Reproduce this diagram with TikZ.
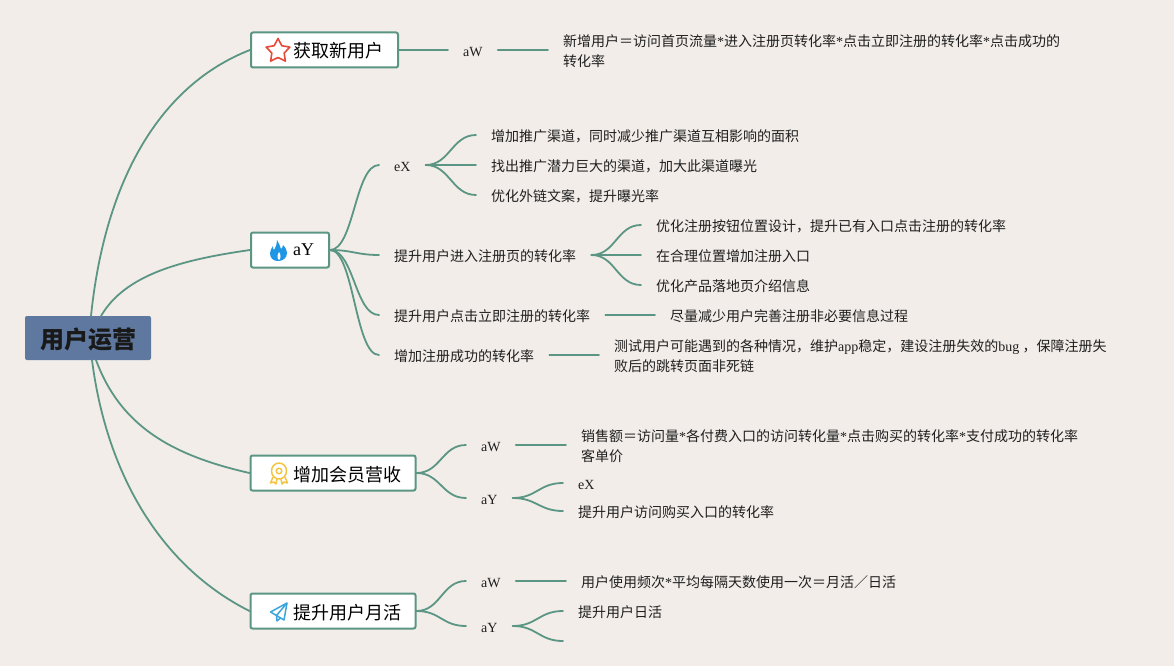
\documentclass[tikz,border=0pt]{standalone}
\usepackage{fontspec}
\setmainfont{Noto Sans CJK SC}
\newfontfamily\latf{Liberation Serif}
\newcommand{\lat}[1]{{\latf #1}}
\usetikzlibrary{calc}
\definecolor{bgc}{HTML}{F2EDE9}
\definecolor{linec}{HTML}{5B9584}
\definecolor{rootc}{HTML}{5F789F}
\definecolor{starc}{HTML}{E5493A}
\definecolor{flamec}{HTML}{1F96E4}
\definecolor{medalc}{HTML}{F4C543}
\definecolor{planec}{HTML}{3CA5DC}
\tikzset{
  lk/.style={draw=linec,line width=1.8pt,line cap=round},
  txtb/.style={anchor=west,inner xsep=15pt,inner ysep=0pt,font=\fontsize{14}{20}\selectfont,align=left,text=black!88},
  txt/.style={anchor=west,inner xsep=15pt,inner ysep=0pt,font=\fontsize{14}{20}\selectfont,text height=13pt,text depth=0.4pt,text=black!88},
  topic/.style={draw=linec,line width=2pt,fill=white,rounded corners=2pt,minimum height=35pt,inner sep=0pt,font=\fontsize{18}{22}\selectfont,text height=16.5pt,text depth=0.5pt,text=black},
  rootbox/.style={fill=rootc,rounded corners=2pt,minimum width=126pt,minimum height=44pt,inner sep=0pt,font=\fontsize{24}{28}\selectfont\bfseries,text height=20.5pt,text depth=0.5pt,text=black!90}
}
\newcommand{\fan}[3][24]{\draw[lk] (#2) .. controls +(#1,0) and +(-#1,0) .. (#3);}
\begin{document}
\begin{tikzpicture}[x=1pt,y=-1pt]
\useasboundingbox (0,0) rectangle (1174,666);
\fill[bgc] (0,0) rectangle (1174,666);
% topics
\node[rootbox] (root) at (88,338) {用户运营};
\node[topic,minimum width=147pt] (t1) at (324.5,50) {\hspace*{28pt}获取新用户};
\node[topic,minimum width=78pt,text height=10pt,text depth=0pt] (t2) at (290,250) {\hspace*{27pt}\lat{aY}};
\node[topic,minimum width=165pt] (t3) at (333,473) {\hspace*{29pt}增加会员营收};
\node[topic,minimum width=165pt] (t4) at (333,611) {\hspace*{28pt}提升用户月活};
% level 2
\node[txt] (a1) at (448,50) {\lat{aW}};
\node[txtb] (a1x) at (548,51) {新增用户＝访问首页流量\lat{*}进入注册页转化率\lat{*}点击立即注册的转化率\lat{*}点击成功的\\转化率};
\node[txt] (b1) at (379,165) {\lat{eX}};
\node[txt] (b11) at (476,135) {增加推广渠道，同时减少推广渠道互相影响的面积};
\node[txt] (b12) at (476,165) {找出推广潜力巨大的渠道，加大此渠道曝光};
\node[txt] (b13) at (476,195) {优化外链文案，提升曝光率};
\node[txt] (b2) at (379,255) {提升用户进入注册页的转化率};
\node[txt] (b21) at (641,225) {优化注册按钮位置设计，提升已有入口点击注册的转化率};
\node[txt] (b22) at (641,255) {在合理位置增加注册入口};
\node[txt] (b23) at (641,285) {优化产品落地页介绍信息};
\node[txt] (b3) at (379,315) {提升用户点击立即注册的转化率};
\node[txt] (b31) at (655,315) {尽量减少用户完善注册非必要信息过程};
\node[txt] (b4) at (379,355) {增加注册成功的转化率};
\node[txtb] (b41) at (599,356) {测试用户可能遇到的各种情况，维护\lat{app}稳定，建设注册失效的\lat{bug} ，保障注册失\\败后的跳转页面非死链};
\node[txt] (c1) at (466,445) {\lat{aW}};
\node[txtb] (c1x) at (566,446) {销售额＝访问量\lat{*}各付费入口的访问转化量\lat{*}点击购买的转化率\lat{*}支付成功的转化率\\客单价};
\node[txt] (c2) at (466,498) {\lat{aY}};
\node[txt] (c21) at (563,483) {\lat{eX}};
\node[txt] (c22) at (563,511) {提升用户访问购买入口的转化率};
\node[txt] (d1) at (466,581) {\lat{aW}};
\node[txt] (d1x) at (566,581) {用户使用频次\lat{*}平均每隔天数使用一次＝月活／日活};
\node[txt] (d2) at (466,626) {\lat{aY}};
\node[txt] (d21) at (563,611) {提升用户日活};
\coordinate (d22) at (563,641);
\coordinate (r1) at (91,316);
\coordinate (r2) at (101,316);
\coordinate (r3) at (96,360);
\coordinate (r4) at (92,360);
% root connectors
\draw[lk] (r1) .. controls (105,180) and (160,85) .. (t1.west);
\draw[lk] (r2) .. controls (125,275) and (180,260) .. (t2.west);
\draw[lk] (r3) .. controls (120,425) and (170,455) .. (t3.west);
\draw[lk] (r4) .. controls (106,470) and (158,565) .. (t4.west);
% straight connectors
\draw[lk] (t1.east) -- (a1.west);
\draw[lk] (a1.east) -- (a1.east -| a1x.west);
\draw[lk] (b3.east) -- (b31.west);
\draw[lk] (b4.east) -- (b4.east -| b41.west);
\draw[lk] (c1.east) -- (c1.east -| c1x.west);
\draw[lk] (d1.east) -- (d1x.west);
\draw[lk] (b1.east) -- (b12.west);
\draw[lk] (b2.east) -- (b22.west);
% fans
\fan{t2.east}{b1.west}
\fan[22]{t2.east}{b2.west}
\fan{t2.east}{b3.west}
\fan{t2.east}{b4.west}
\fan{b1.east}{b11.west}
\fan{b1.east}{b13.west}
\fan{b2.east}{b21.west}
\fan{b2.east}{b23.west}
\fan{t3.east}{c1.west}
\fan{t3.east}{c2.west}
\fan{c2.east}{c21.west}
\fan{c2.east}{c22.west}
\fan{t4.east}{d1.west}
\fan{t4.east}{d2.west}
\fan{d2.east}{d21.west}
\fan{d2.east}{d22}
% icons
\begin{scope}[shift={(278,51)}]
\draw[starc,line width=1.6pt,line join=round] (-90:12.5)--(-54:6.5)--(-18:12.5)--(18:6.5)--(54:12.5)--(90:6.5)--(126:12.5)--(162:6.5)--(198:12.5)--(234:6.5)--cycle;
\end{scope}
\fill[flamec] (277,240) .. controls (279,243) and (280,246) .. (281,249)
  .. controls (282,248) and (283,247) .. (283,245)
  .. controls (286,248) and (287,251) .. (287,253)
  .. controls (287,258) and (283,261) .. (278,261)
  .. controls (273,261) and (270,258) .. (270,253)
  .. controls (270,250) and (272,248) .. (273,246)
  .. controls (273,248) and (273,249) .. (274,250)
  .. controls (276,247) and (277,243) .. (277,240) -- cycle;
\fill[white] (279,252) .. controls (281,254) and (281,259) .. (279,260) .. controls (277,259) and (277,255) .. (279,252) -- cycle;
\begin{scope}[medalc,line width=1.5pt,line join=round]
\draw (279,471) ellipse [x radius=7.5,y radius=8];
\draw (279,471) circle (2.8);
\draw (273,477)--(270.5,483)--(274,482)--(276,484)--(277,479);
\draw (285,477)--(287.5,483)--(284,482)--(282,484)--(281,479);
\end{scope}
\draw[planec,line width=1.5pt,line join=round] (287,603)--(270.5,612)--(276.5,615.5)--cycle;
\draw[planec,line width=1.5pt,line join=round] (287,603)--(284,620)--(276.5,615.5)--(277,621)--(280.5,618);
\end{tikzpicture}
\end{document}
